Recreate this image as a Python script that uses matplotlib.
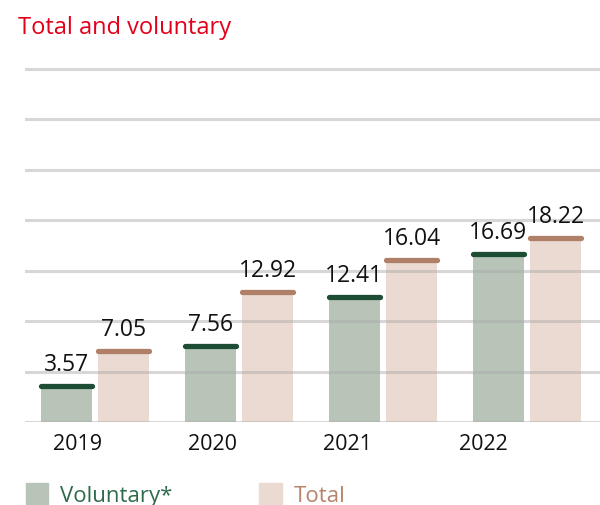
import numpy as np
import matplotlib
import matplotlib.pyplot as plt
from matplotlib.patches import Patch

matplotlib.use("Agg")

# data
years = ["2019", "2020", "2021", "2022"]
voluntary = [3.57, 7.56, 12.41, 16.69]
total = [7.05, 12.92, 16.04, 18.22]

plt.rcParams["font.family"] = ["Open Sans", "DejaVu Sans"]

vol_bar = "#b9c4b9"
vol_cap = "#1e4d36"
tot_bar = "#eadad2"
tot_cap = "#b07f67"

fig = plt.figure(figsize=(6, 5.06), dpi=100)
ax = fig.add_axes([0.042, 0.164, 0.958, 0.7075])

x = np.arange(len(years))
w = 0.354
off = 0.2

ax.bar(x - off, voluntary, w, color=vol_bar, zorder=1)
ax.bar(x + off, total, w, color=tot_bar, zorder=1)
ax.hlines(voluntary, x - off - w / 2, x - off + w / 2, color=vol_cap, lw=3.8, capstyle="round", zorder=3)
ax.hlines(total, x + off - w / 2, x + off + w / 2, color=tot_cap, lw=3.8, capstyle="round", zorder=3)

for xi, v in zip(x - off, voluntary):
    ax.text(xi, v + 1.0, f"{v:.2f}", ha="center", va="bottom", fontsize=16.5, color="#111111")
for xi, v in zip(x + off, total):
    ax.text(xi, v + 1.0, f"{v:.2f}", ha="center", va="bottom", fontsize=16.5, color="#111111")

for g in np.arange(0, 36, 5):
    ax.axhline(g, color="#a8a8a8", alpha=0.45, lw=2.2, zorder=2)

ax.set_ylim(0, 35.5)
ax.set_xlim(-0.486, 3.507)
ax.set_yticks([])
ax.set_xticks(-0.125 + x * 0.94)
ax.set_xticklabels(years, fontsize=15.5, color="#111111")
ax.tick_params(axis="x", length=0, pad=8)
for s in ax.spines.values():
    s.set_visible(False)

fig.text(0.03, 0.945, "Total and voluntary", color="#e2001a", fontsize=17, va="center")

handles = [Patch(color=vol_bar), Patch(color=tot_bar)]
fig.legend(handles, ["Voluntary*", "Total"], ncol=2, loc="center left",
           bbox_to_anchor=(0.043, 0.021), frameon=False, fontsize=16,
           labelcolor=["#2f6b4b", "#b5846b"], handlelength=1.0, handleheight=1.1,
           handletextpad=0.55, columnspacing=3.9, borderaxespad=0, borderpad=0)

plt.savefig("out.png", dpi=100)
plt.close()
